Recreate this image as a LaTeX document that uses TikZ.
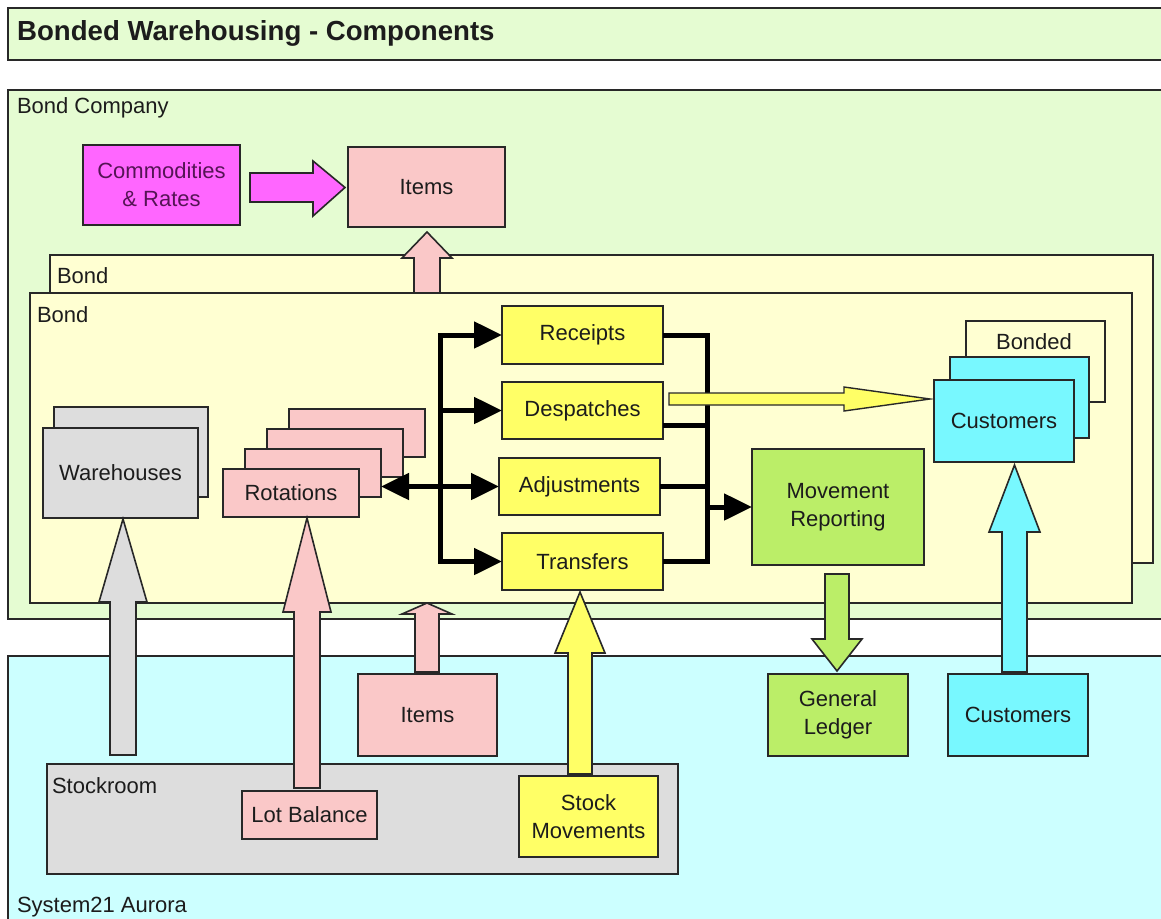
\documentclass[tikz,border=0pt]{standalone}
\usepackage{fontspec}
\setmainfont{Liberation Sans}
\usetikzlibrary{arrows.meta,calc}

\definecolor{ink}{RGB}{28,28,28}
\definecolor{edge}{RGB}{40,40,40}
\definecolor{bcgreen}{RGB}{229,252,210}
\definecolor{bondbg}{RGB}{255,255,210}
\definecolor{aurora}{RGB}{204,255,255}
\definecolor{magbox}{RGB}{255,102,255}
\definecolor{magtext}{RGB}{85,20,85}
\definecolor{pinkbox}{RGB}{250,200,200}
\definecolor{greybox}{RGB}{221,221,221}
\definecolor{yelbox}{RGB}{255,255,102}
\definecolor{grnbox}{RGB}{187,238,104}
\definecolor{cyanbox}{RGB}{120,248,255}

\newcommand\boxfont{\fontsize{22}{28}\selectfont}
\newcommand\titlefont{\fontsize{27.6}{30}\selectfont\bfseries}

\tikzset{
  frame/.style={draw=edge, line width=1.6pt},
  box/.style={draw=edge, line width=1.6pt, inner sep=0pt, outer sep=0pt,
    anchor=north west, align=center, text=ink, font=\boxfont},
  lbl/.style={inner sep=0pt, outer sep=0pt, anchor=base west, text=ink, font=\boxfont},
  blk/.style={draw=edge, line width=1.6pt, line join=miter},
  bigtri/.tip={Triangle[length=28pt,width=26pt]},
  conn/.style={line width=5pt, draw=black},
}

% vertical block arrow: centre x, tip y, head-base y, tail y, half shaft, half head, fill
\newcommand\vblock[7]{%
  \filldraw[blk, fill=#7] ({#1-#5},#4) -- ({#1-#5},#3) -- ({#1-#6},#3) -- (#1,#2)
    -- ({#1+#6},#3) -- ({#1+#5},#3) -- ({#1+#5},#4) -- cycle;}

\begin{document}
\begin{tikzpicture}[x=1pt,y=-1pt]
\useasboundingbox (0,0) rectangle (1161,918);
\fill[white] (0,0) rectangle (1161,918);
\clip (0,0) rectangle (1161,918);

% --- title bar ---
\filldraw[frame, fill=bcgreen] (8,8) rectangle (1175,60);
\node[inner sep=0pt, anchor=base west, text=ink, font=\titlefont] (title) at (17,40)
  {Bonded Warehousing - Components};

% --- containers ---
\filldraw[frame, fill=bcgreen] (8,90) rectangle (1175,619);
\node[lbl] (lcompany) at (17,113) {Bond Company};
\filldraw[frame, fill=aurora] (8,656) rectangle (1175,930);
\node[lbl] (laurora) at (17,912) {System21 Aurora};

\filldraw[frame, fill=bondbg] (50,255) rectangle (1153,563);
\node[lbl] (lbondback) at (57,283) {Bond};
\vblock{427}{232}{258}{293}{13}{25}{pinkbox}
\filldraw[frame, fill=bondbg] (30,293) rectangle (1132,603);
\node[lbl] (lbond) at (37,322) {Bond};

% --- Bond Company level ---
\node[box, fill=magbox, text=magtext, minimum width=157pt, minimum height=80pt] (comm) at (83,145)
  {Commodities\\\& Rates};
\node[box, fill=pinkbox, minimum width=157pt, minimum height=80pt] (itemstop) at (348,147) {Items};
\filldraw[blk, fill=magbox] (250,173) -- (313,173) -- (313,161) -- (345,187.5)
  -- (313,216) -- (313,202) -- (250,202) -- cycle;

% --- Bond level ---
\node[box, fill=greybox, minimum width=154pt, minimum height=90pt] (whback) at (54,407) {};
\node[box, fill=greybox, minimum width=155pt, minimum height=90pt] (wh) at (43,428) {Warehouses};

\node[box, fill=pinkbox, minimum width=136pt, minimum height=48pt] (rot4) at (289,409) {};
\node[box, fill=pinkbox, minimum width=136pt, minimum height=48pt] (rot3) at (267,429) {};
\node[box, fill=pinkbox, minimum width=136pt, minimum height=48pt] (rot2) at (245,449) {};
\node[box, fill=pinkbox, minimum width=136pt, minimum height=48pt] (rot1) at (223,469) {Rotations};

\node[box, fill=yelbox, minimum width=161pt, minimum height=58pt] (rec) at (502,306) {Receipts};
\node[box, fill=yelbox, minimum width=161pt, minimum height=57pt] (desp) at (502,382) {Despatches};
\node[box, fill=yelbox, minimum width=161pt, minimum height=57pt] (adj) at (499,458) {Adjustments};
\node[box, fill=yelbox, minimum width=161pt, minimum height=57pt] (tra) at (502,533) {Transfers};

\node[box, fill=grnbox, minimum width=172pt, minimum height=116pt] (mr) at (752,449)
  {Movement\\Reporting};

\node[box, fill=bondbg, minimum width=139pt, minimum height=81pt] (bonded) at (966,321) {};
\node[lbl, anchor=base] (lbonded) at (1034,349) {Bonded};
\node[box, fill=cyanbox, minimum width=139pt, minimum height=81pt] (custmid) at (950,357) {};
\node[box, fill=cyanbox, minimum width=140pt, minimum height=82pt] (cust) at (934,380) {Customers};

% --- System21 Aurora level ---
\node[box, fill=greybox, minimum width=631pt, minimum height=110pt] (stock) at (47,764) {};
\node[lbl] (lstock) at (52,793) {Stockroom};
\node[box, fill=pinkbox, minimum width=135pt, minimum height=48pt] (lot) at (242,791) {Lot Balance};
\node[box, fill=pinkbox, minimum width=139pt, minimum height=82pt] (itemsbot) at (358,674) {Items};
\node[box, fill=yelbox, minimum width=139pt, minimum height=81pt] (sm) at (519,776)
  {Stock\\Movements};
\node[box, fill=grnbox, minimum width=140pt, minimum height=82pt] (gl) at (768,674)
  {General\\Ledger};
\node[box, fill=cyanbox, minimum width=140pt, minimum height=82pt] (custbot) at (948,674) {Customers};

% --- transaction buses ---
\coordinate (busL) at (440,0);
\coordinate (busR) at (707,0);
\draw[conn, line cap=rect] (rec.west -| busL) -- (tra.west -| busL);
\draw[conn, -bigtri] (rec.west -| busL) -- (rec.west);
\draw[conn, -bigtri] (desp.west -| busL) -- (desp.west);
\draw[conn, -bigtri] (tra.west -| busL) -- (tra.west);
\draw[conn, bigtri-bigtri] (adj.west -| rot2.east) -- (adj.west);

\coordinate (despout) at ($(desp.east)+(0,15)$);
\draw[conn, line cap=rect] (rec.east -| busR) -- (tra.east -| busR);
\draw[conn] (rec.east) -- (rec.east -| busR);
\draw[conn] (despout) -- (despout -| busR);
\draw[conn] (adj.east) -- (adj.east -| busR);
\draw[conn] (tra.east) -- (tra.east -| busR);
\draw[conn, -bigtri] (mr.west -| busR) -- (mr.west);

% despatches feed the bonded customers
\filldraw[blk, fill=yelbox, line width=1.4pt] (669,393) -- (844,393) -- (844,387) -- (930,399)
  -- (844,411) -- (844,405) -- (669,405) -- cycle;

% --- block arrows between levels ---
\vblock{123}{519}{602}{755}{13}{24}{greybox}
\vblock{307}{518}{612}{788}{13}{24}{pinkbox}
\vblock{427}{603}{614}{672}{12}{25}{pinkbox}
\vblock{580}{592}{653}{774}{12}{25}{yelbox}
\vblock{837}{671}{639}{574}{12}{25}{grnbox}
\vblock{1014.5}{465}{532}{672}{12.5}{25.5}{cyanbox}

\end{tikzpicture}
\end{document}
